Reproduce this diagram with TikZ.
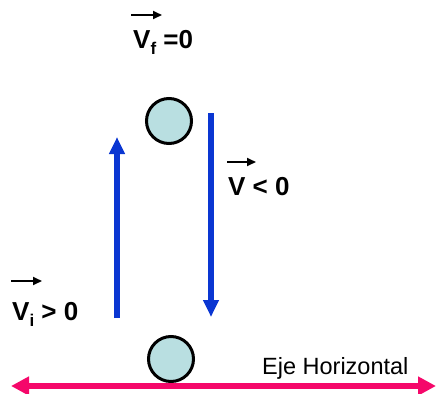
\documentclass[tikz,border=0pt]{standalone}
\usepackage{fontspec}
\setmainfont{Liberation Sans}
\usepackage{xcolor}
\usetikzlibrary{arrows.meta,positioning}

\definecolor{ballfill}{HTML}{B9DFE1}
\definecolor{velblue}{HTML}{0A36D2}
\definecolor{axispink}{HTML}{F5086A}

\newcommand{\sub}[1]{\raisebox{-6pt}{\fontsize{17}{17}\selectfont #1}}

\begin{document}
\begin{tikzpicture}[
  x=1pt, y=1pt,
  ball/.style={circle, draw, line width=3pt, fill=ballfill, minimum size=45pt, inner sep=0pt},
  vel/.style={-{Triangle[length=17pt,width=15pt]}, line width=6pt, velblue},
  axis/.style={{Triangle[length=18pt,width=18pt]}-{Triangle[length=18pt,width=18pt]}, line width=6pt, axispink},
  vec/.style={-{Triangle[length=9pt,width=8pt]}, line width=2pt},
  lbl/.style={inner sep=0pt, anchor=base west, font=\fontsize{26}{31}\selectfont\bfseries}
]
\useasboundingbox (0,0) rectangle (437,-394);

% Balls (top and bottom of the trajectory)
\node[ball] (top) at (169,-121) {};
\node[ball] (bottom) at (171,-359) {};

% Velocity arrows
\coordinate (upstart) at (117,-318);
\coordinate (upend) at (117,-137);
\coordinate (downstart) at (211,-113);
\coordinate (downend) at (211,-317);
\draw[vel] (upstart) -- (upend);
\draw[vel] (downstart) -- (downend);

% Horizontal axis
\coordinate (axisL) at (11,-386);
\coordinate (axisR) at (436,-386);
\draw[axis] (axisL) -- (axisR);
\node[inner sep=0pt, anchor=base west, font=\fontsize{23.5}{28}\selectfont] (eje) at (262,-374) {Eje Horizontal};

% Labels
\node[lbl] (vf) at (133,-48) {V\sub{f} =0};
\node[lbl] (vi) at (12,-320) {V\sub{i} > 0};
\node[lbl] (vneg) at (228,-195) {V < 0};

\draw[vec] ([yshift=33pt]vf.base west) ++(-2,0) -- ++(31,0);
\draw[vec] ([yshift=39pt]vi.base west) ++(-1,0) -- ++(31,0);
\draw[vec] ([yshift=33pt]vneg.base west) ++(-1,0) -- ++(29,0);
\end{tikzpicture}
\end{document}
